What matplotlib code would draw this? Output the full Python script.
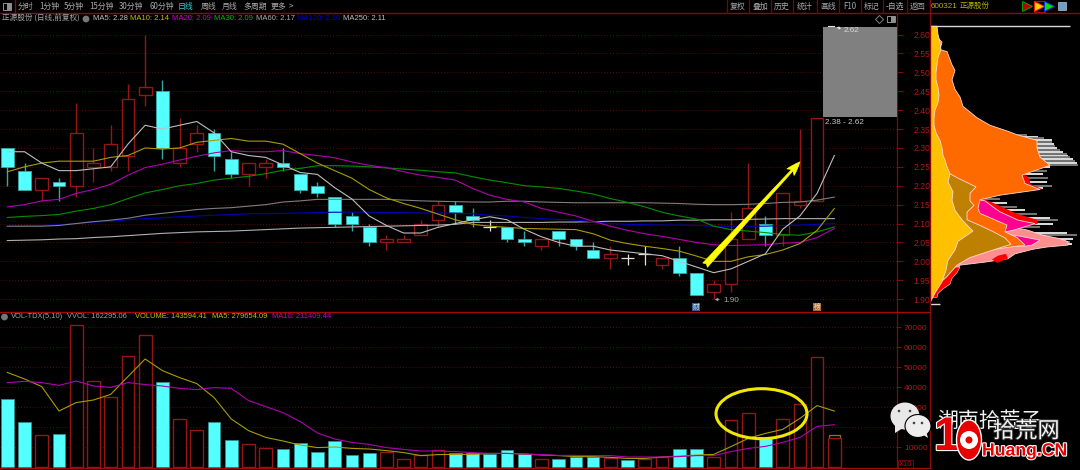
import matplotlib
matplotlib.use("Agg")
import matplotlib.pyplot as plt
import matplotlib.patheffects as pe
from matplotlib.patches import Ellipse, Rectangle, FancyArrowPatch, Polygon, Circle

plt.rcParams['font.family'] = ['Noto Sans CJK SC', 'DejaVu Sans']
LAT = 'Liberation Sans'

# ---------- data ----------
opens  = [2.30,2.24,2.19,2.21,2.20,2.25,2.25,2.28,2.44,2.45,2.26,2.31,2.34,2.27,2.23,2.25,2.26,2.23,2.20,2.17,2.12,2.09,2.05,2.05,2.07,2.11,2.15,2.12,2.09,2.09,2.06,2.04,2.08,2.06,2.03,2.01,2.01,2.02,1.99,2.01,1.97,1.92,1.94,2.06,2.10,2.07,2.15,2.16]
closes = [2.25,2.19,2.22,2.20,2.34,2.26,2.31,2.43,2.46,2.30,2.30,2.34,2.28,2.23,2.26,2.26,2.25,2.19,2.18,2.10,2.10,2.05,2.06,2.06,2.10,2.15,2.13,2.11,2.09,2.06,2.05,2.06,2.06,2.04,2.01,2.02,2.01,2.02,2.01,1.97,1.91,1.94,2.06,2.14,2.07,2.18,2.16,2.38]
highs  = [2.30,2.26,2.22,2.22,2.42,2.30,2.36,2.47,2.60,2.48,2.38,2.36,2.35,2.29,2.26,2.27,2.30,2.23,2.21,2.17,2.13,2.10,2.07,2.07,2.11,2.16,2.16,2.14,2.11,2.09,2.08,2.06,2.08,2.06,2.05,2.04,2.02,2.04,2.01,2.04,1.97,1.95,2.13,2.26,2.12,2.18,2.35,2.38]
lows   = [2.20,2.19,2.16,2.16,2.17,2.21,2.24,2.24,2.41,2.27,2.25,2.29,2.24,2.22,2.20,2.22,2.24,2.18,2.17,2.09,2.08,2.04,2.03,2.05,2.07,2.09,2.10,2.09,2.08,2.05,2.04,2.03,2.04,2.03,2.01,1.98,1.99,1.99,1.98,1.96,1.91,1.90,1.92,2.06,2.04,2.04,2.14,2.16]

ma5   = [2.29,2.29,2.26,2.24,2.24,2.245,2.25,2.31,2.36,2.35,2.36,2.37,2.34,2.29,2.28,2.275,2.255,2.235,2.23,2.195,2.165,2.12,2.095,2.075,2.075,2.09,2.10,2.11,2.118,2.11,2.085,2.065,2.05,2.04,2.04,2.03,2.025,2.02,2.015,2.00,1.985,1.97,1.98,2.00,2.02,2.085,2.12,2.18,2.28]
ma10  = [2.237,2.25,2.26,2.265,2.265,2.265,2.275,2.28,2.30,2.297,2.30,2.315,2.32,2.325,2.318,2.318,2.31,2.285,2.26,2.24,2.22,2.19,2.168,2.153,2.14,2.125,2.11,2.098,2.093,2.09,2.087,2.086,2.085,2.084,2.073,2.056,2.047,2.04,2.034,2.027,2.014,2.00,2.00,2.012,2.018,2.03,2.047,2.082,2.14]
ma20  = [2.144,2.15,2.16,2.164,2.18,2.19,2.204,2.228,2.248,2.257,2.268,2.278,2.287,2.293,2.29,2.29,2.293,2.285,2.28,2.274,2.263,2.254,2.248,2.237,2.228,2.222,2.215,2.193,2.175,2.164,2.157,2.14,2.13,2.12,2.106,2.093,2.082,2.073,2.066,2.058,2.05,2.044,2.042,2.043,2.044,2.048,2.05,2.063,2.087]
ma30  = [2.116,2.119,2.121,2.124,2.133,2.14,2.15,2.166,2.181,2.19,2.20,2.206,2.215,2.22,2.225,2.232,2.241,2.246,2.253,2.253,2.252,2.25,2.247,2.244,2.241,2.237,2.234,2.224,2.215,2.208,2.20,2.197,2.193,2.186,2.178,2.166,2.156,2.144,2.13,2.12,2.112,2.093,2.084,2.08,2.076,2.071,2.069,2.078,2.091]
ma60  = [2.093,2.093,2.093,2.095,2.10,2.105,2.109,2.114,2.122,2.127,2.132,2.137,2.14,2.142,2.146,2.15,2.157,2.16,2.164,2.164,2.164,2.164,2.164,2.162,2.16,2.159,2.158,2.157,2.157,2.159,2.159,2.157,2.156,2.155,2.155,2.155,2.155,2.155,2.154,2.153,2.151,2.15,2.15,2.151,2.153,2.156,2.157,2.162,2.17]
ma120 = [2.092,2.094,2.095,2.097,2.10,2.104,2.106,2.11,2.113,2.115,2.118,2.12,2.122,2.124,2.126,2.126,2.127,2.128,2.129,2.13,2.13,2.13,2.129,2.129,2.128,2.128,2.127,2.126,2.122,2.12,2.116,2.113,2.111,2.109,2.105,2.10,2.098,2.097,2.096,2.096,2.095,2.093,2.093,2.093,2.093,2.095,2.096,2.098,2.10]
ma250 = [2.055,2.056,2.057,2.059,2.06,2.063,2.065,2.068,2.071,2.074,2.076,2.078,2.079,2.08,2.082,2.084,2.086,2.088,2.089,2.09,2.091,2.092,2.093,2.094,2.095,2.096,2.098,2.103,2.103,2.103,2.103,2.103,2.104,2.104,2.105,2.106,2.106,2.107,2.107,2.109,2.109,2.11,2.11,2.111,2.112,2.113,2.113,2.113,2.113]

volume = [34000,22300,15800,16500,71000,43000,35000,55700,65800,42300,24200,18300,22300,13700,11300,9300,8800,12000,7500,13000,5800,6800,7500,3800,6000,8300,7200,6800,6300,8300,6300,3800,4000,5000,5200,4700,3300,3800,4800,8800,8800,4800,23300,26800,15200,24200,31500,55000,14359]
vol_up = [0,0,1,0,1,1,1,1,1,0,1,1,0,0,1,1,0,0,0,0,0,0,1,1,1,1,0,0,0,0,0,1,0,0,0,1,0,1,1,0,0,1,1,1,0,1,1,1,1]
vol_ma5 = [47300,44000,40200,28000,32200,33500,36300,45200,54000,48200,44700,41700,34700,24000,18200,14800,13000,11000,9700,10000,9300,9000,8200,7200,5700,6200,6300,6300,6800,6800,6500,6000,5700,5200,5200,4800,4300,4300,5000,5500,6000,6300,10200,14300,16800,18800,24300,30700,27965]
vol_ma10 = [42200,42800,42200,40800,43000,40500,39800,42200,41200,40500,39300,38700,39700,39300,33200,30200,27200,22700,17000,14000,12300,11300,9700,8800,8000,8000,7700,7200,6800,6800,6500,6200,5800,5800,5700,5700,5000,5000,5000,5200,5700,5700,7700,9300,10300,12300,14800,20300,21141]
vvol_last = 16230

price_ticks = [2.60,2.55,2.50,2.45,2.40,2.35,2.30,2.25,2.20,2.15,2.10,2.05,2.00,1.95,1.90]
vol_ticks = [10000,20000,30000,40000,50000,60000,70000]

# chip distribution: (price, chips)
chip_yellow = [(2.622,7),(2.60,8),(2.58,10),(2.56,11),(2.54,8),(2.52,7),(2.50,6),(2.48,6),(2.46,8),(2.44,9),(2.42,8),(2.40,5),(2.38,4),(2.36,4),(2.34,6),(2.32,10),(2.30,12),(2.28,13),(2.268,15),(2.25,17),(2.232,20),(2.21,18),(2.184,23),(2.162,22),(2.135,25),(2.11,32),(2.08,43),(2.053,28),(2.03,25),(2.003,18),(1.977,16),(1.946,12),(1.916,5),(1.89,0)]
chip_brown = [(2.232,20),(2.22,28),(2.197,46),(2.18,40),(2.16,40),(2.148,44),(2.13,37),(2.11,37),(2.095,50),(2.08,62),(2.062,75),(2.045,81),(2.03,63),(2.01,40),(1.99,27),(1.975,22),(1.96,17),(1.95,13)]
chip_orange = [(2.59,8),(2.58,12),(2.56,10),(2.555,17),(2.52,22),(2.505,25),(2.48,22),(2.455,25),(2.435,30),(2.41,33),(2.38,47),(2.36,60),(2.345,77),(2.335,87),(2.32,107),(2.30,107),(2.276,110),(2.254,120),(2.228,92),(2.206,95),(2.19,110),(2.175,70),(2.163,50),(2.14,48),(2.127,50),(2.096,77),(2.078,75),(2.063,87),(2.043,95),(2.034,70),(2.025,50),(2.00,27)]
chip_magenta_a = [(2.162,50),(2.16,55),(2.144,63),(2.131,70),(2.109,88),(2.10,105),(2.09,93),(2.082,83),(2.078,75)]
chip_magenta_b = [(2.069,85),(2.063,97),(2.056,110),(2.043,102),(2.04,95)]
chip_pink = [(2.09,83),(2.083,97),(2.069,113),(2.06,130),(2.052,138),(2.043,138),(2.038,117),(2.032,103),(2.02,85),(2.007,78),(1.998,55),(1.99,30),(1.982,28)]
chip_red_a = [(2.165,53),(2.155,63),(2.14,75),(2.125,88),(2.11,107),(2.10,108),(2.09,95)]
chip_red_b = [(2.235,95),(2.228,96),(2.215,100),(2.205,100),(2.19,113)]
chip_red_c = [(1.985,30),(1.97,27),(1.955,22),(1.94,20),(1.925,12),(1.915,8),(1.905,7)]
chip_red_blob = [(2.02,76),(2.008,78),(1.996,67),(2.005,62),(2.015,68)]
spike_price = [2.335,2.33,2.325,2.32,2.315,2.31,2.305,2.30,2.295,2.29,2.285,2.28,2.275,2.27,2.265,2.26,2.255,2.25,2.24,2.23,2.22,2.21,2.20,2.195,2.165,2.155,2.145,2.135,2.125,2.115,2.11,2.10,2.09,2.075,2.07,2.06,2.05,2.045]
spike_len = [97,108,114,122,122,124,125,127,130,133,137,138,140,143,145,147,148,120,117,113,118,117,122,113,70,77,87,95,107,120,128,123,110,137,147,143,140,142]

# ---------- layout ----------
W, H = 1080, 470
RED = '#961616'
DIM = '#7A0C0C'
GRID = '#5A0A0A'
CY = '#54FFFF'
fig = plt.figure(figsize=(10.8, 4.7), dpi=100, facecolor='black')

def rect(x0, y0, x1, y1):
    return [x0 / W, 1 - y1 / H, (x1 - x0) / W, (y1 - y0) / H]

ax = fig.add_axes(rect(0, 13, 897, 312), facecolor='black')
vx = fig.add_axes(rect(0, 312, 897, 468), facecolor='black')
cx = fig.add_axes(rect(930, 13, 1080, 312), facecolor='black')
ov = fig.add_axes([0, 0, 1, 1], facecolor='none', zorder=20)
ov.set_xlim(0, W); ov.set_ylim(H, 0); ov.axis('off')

X0, DX = 7.3, 17.23
xlim = (-X0 / DX, (897 - X0) / DX)
ylim = (1.866, 2.657)

# ---------- price panel ----------
ax.set_xlim(*xlim); ax.set_ylim(*ylim)
ax.set_xticks([])
ax.set_yticks(price_ticks)
ax.set_yticklabels([f'{t:.2f}' for t in price_ticks], family=LAT)
ax.yaxis.tick_right()
ax.tick_params(axis='y', colors=DIM, labelcolor='#B01818', labelsize=6.2, length=4, width=0.8, pad=8)
ax.hlines(price_ticks, xlim[0], xlim[1], colors=GRID, linestyles=(0, (1, 2)), linewidth=0.7, zorder=0)
for s in ('top', 'left', 'bottom'):
    ax.spines[s].set_visible(False)
ax.spines['right'].set_color(DIM); ax.spines['right'].set_linewidth(0.9)

for i, (o, h, l, c) in enumerate(zip(opens, highs, lows, closes)):
    if c > o:
        ax.vlines(i, l, h, colors=RED, linewidth=1, zorder=3)
        ax.bar(i, c - o, bottom=o, width=0.74, facecolor='black', edgecolor=RED, linewidth=1, zorder=4)
    elif c < o:
        ax.vlines(i, l, h, colors='#3AA5A5', linewidth=1, zorder=3)
        ax.bar(i, o - c, bottom=c, width=0.74, facecolor=CY, edgecolor='#3AA5A5', linewidth=0.6, zorder=4)
    else:
        ax.vlines(i, l, h, colors='#E0E0E0', linewidth=0.9, zorder=3)
        ax.hlines(o, i - 0.37, i + 0.37, colors='#E0E0E0', linewidth=0.9, zorder=3)

xs = range(len(ma5))
for vals, col in [(ma250, '#B0B0B0'), (ma120, '#0000B8'), (ma60, '#7E7E7E'), (ma30, '#009000'),
                  (ma20, '#B000B0'), (ma10, '#A89C00'), (ma5, '#BEBEBE')]:
    ax.plot(xs, vals, color=col, linewidth=0.8, zorder=6, solid_joinstyle='round')

ax.add_patch(FancyArrowPatch((40.5, 1.99), (46.0, 2.263),
                             arrowstyle='fancy,head_length=10,head_width=7,tail_width=4.5',
                             mutation_scale=1.0, facecolor='#FFFF00', edgecolor='#FFFF00',
                             linewidth=0.5, zorder=8, shrinkA=0, shrinkB=0))

# ---------- volume panel ----------
vx.set_xlim(*xlim); vx.set_ylim(-500, 77500)
vx.set_xticks([])
vx.set_yticks(vol_ticks)
vx.set_yticklabels([str(t) for t in vol_ticks], family=LAT)
vx.yaxis.tick_right()
vx.tick_params(axis='y', colors=DIM, labelcolor='#B01818', labelsize=6.0, length=3, width=0.8, pad=2)
vx.hlines(vol_ticks, xlim[0], xlim[1], colors=GRID, linestyles=(0, (1, 2)), linewidth=0.7, zorder=0)
for s in ('top', 'left', 'bottom'):
    vx.spines[s].set_visible(False)
vx.spines['right'].set_color(DIM); vx.spines['right'].set_linewidth(0.9)

vx.bar(len(volume) - 1, vvol_last, width=0.66, facecolor='black', edgecolor='#8A7A00', linewidth=0.9, zorder=2)
for i, (v, up) in enumerate(zip(volume, vol_up)):
    if up:
        vx.bar(i, v, width=0.74, facecolor='black', edgecolor=RED, linewidth=1, zorder=3)
    else:
        vx.bar(i, v, width=0.74, facecolor=CY, edgecolor='#2F8F8F', linewidth=0.6, zorder=3)
vx.plot(range(len(vol_ma5)), vol_ma5, color='#A89C00', linewidth=0.8, zorder=5)
vx.plot(range(len(vol_ma10)), vol_ma10, color='#B000B0', linewidth=0.8, zorder=5)

# ---------- chip panel ----------
cx.set_xlim(0, 150); cx.set_ylim(*ylim); cx.axis('off')
spike_cols = ['#F0F0F0' if i % 2 else '#808080' for i in range(len(spike_price))]
cx.hlines(spike_price, 0, spike_len, colors=spike_cols, linewidth=1.3, zorder=1)
cx.hlines(2.622, 0, 140, colors='#D8D8D8', linewidth=1, zorder=1)
cx.hlines(1.886, 0, 10, colors='#D8D8D8', linewidth=1, zorder=1)

def chip(points, color, z, edge='#FFD8D8', lw=0.6):
    pts = [(0, points[0][0])] + [(c, p) for p, c in points] + [(0, points[-1][0])]
    cx.add_patch(Polygon(pts, closed=True, facecolor=color, edgecolor=edge, linewidth=lw, zorder=z))

chip(chip_pink, '#FF8F8F', 2)
cx.add_patch(Polygon([(c, p) for p, c in chip_red_blob], closed=True, facecolor='#FF0000', edgecolor='none', zorder=3))
chip(chip_red_a, '#FF0000', 3, edge='none')
chip(chip_red_b, '#FF0000', 3, edge='none')
chip(chip_red_c, '#FF0000', 3, edge='#FFD8D8', lw=0.4)
chip(chip_magenta_a, '#FF0090', 4)
chip(chip_magenta_b, '#FF0090', 4)
chip(chip_orange, '#FF6A00', 5)
chip(chip_brown, '#BE8000', 6)
chip(chip_yellow, '#FFC000', 7)

# ---------- annotations in pixel space ----------
ov.add_patch(Rectangle((823.3, 27), 73.4, 90, facecolor='#808080', edgecolor='none', zorder=1))
ov.text(825, 123, '2.38 - 2.62', color='#C8C8C8', fontsize=5.9, va='center', family=LAT)
ov.text(844, 30, '2.62', color='#D8D8D8', fontsize=5.9, va='center', ha='left', family=LAT)
ov.annotate('', xy=(834, 26), xytext=(843, 29.5), arrowprops=dict(arrowstyle='-|>', color='#E0E0E0', lw=0.6, mutation_scale=4))
ov.plot([828, 834], [26, 26], color='#E0E0E0', lw=0.8)
ov.text(723, 300, '1.90', color='#A8A8A8', fontsize=5.9, va='center', family=LAT)
ov.annotate('', xy=(712, 299.5), xytext=(722, 299.5), arrowprops=dict(arrowstyle='-|>', color='#A8A8A8', lw=0.6, mutation_scale=4))

ov.add_patch(Ellipse((761.5, 413.7), 91, 50, facecolor='none', edgecolor='#F0E800', linewidth=2.2, zorder=3))

# frame lines
ov.plot([0, 1080], [13, 13], color='#8A0A0A', lw=1)
ov.plot([0, 930], [312, 312], color='#A00A0A', lw=1)
ov.plot([0, 930], [468, 468], color='#A00A0A', lw=1)
ov.plot([930, 930], [0, 468], color='#8A0A0A', lw=1)
ov.plot([15, 15], [0, 13], color='#8A0A0A', lw=1)
for x in (727, 749, 771, 793, 817, 839, 861, 883, 907):
    ov.plot([x, x], [0, 13], color='#6A0A0A', lw=0.9)

# toolbar
TXT = '#A8A8A8'
ov.add_patch(Rectangle((3, 3), 8, 7, facecolor='none', edgecolor='#909090', lw=0.7))
ov.add_patch(Rectangle((7, 3), 4, 7, facecolor='#909090', edgecolor='none'))
for x, s, col in [(18, '分时', TXT), (39, '1分钟', TXT), (64, '5分钟', TXT), (89, '15分钟', TXT), (119, '30分钟', TXT),
                  (149, '60分钟', TXT), (178, '日线', '#3CCCCC'), (201, '周线', TXT), (222, '月线', TXT), (243, '多周期', TXT),
                  (271, '更多', TXT), (289, '>', TXT)]:
    ov.text(x, 6.5, s, color=col, fontsize=5.7, va='center', ha='left')
for x, s in [(738, '复权'), (760, '叠加'), (782, '历史'), (805, '统计'), (828, '画线'), (850, 'F10'), (872, '标记'), (895, '-自选'), (918, '返回')]:
    ov.text(x, 6.5, s, color=TXT, fontsize=5.7, va='center', ha='center')

# header lines
ov.text(2, 19, '正源股份 (日线,前复权)', color=TXT, fontsize=5.5, va='center')
ov.add_patch(Circle((86, 19), 3.4, facecolor='#777777', edgecolor='none'))
for x, s, col in [(93, 'MA5: 2.28', '#C0C0C0'), (130, 'MA10: 2.14', '#C8C000'), (172, 'MA20: 2.09', '#D000D0'),
                  (214, 'MA30: 2.09', '#00B800'), (256, 'MA60: 2.17', '#B0B0B0'), (297, 'MA120: 2.10', '#0000D0'),
                  (343, 'MA250: 2.11', '#C0C0C0')]:
    ov.text(x, 19, s, color=col, fontsize=5.5, va='center', family=LAT)
ov.add_patch(Circle((4.5, 317), 3.4, facecolor='#777777', edgecolor='none'))
for x, s, col in [(11, 'VOL-TDX(5,10)', '#A0A0A0'), (67, 'VVOL: 162295.06', '#A0A0A0'), (135, 'VOLUME: 143594.41', '#C8C000'),
                  (212, 'MA5: 279654.09', '#C8C000'), (272, 'MA10: 211409.44', '#D000D0')]:
    ov.text(x, 317, s, color=col, fontsize=5.4, va='center', family=LAT)

# right header
ov.text(931, 6, '600321', color='#B8B000', fontsize=5.8, va='center', family=LAT)
ov.text(960, 6, '正源股份', color='#B8B000', fontsize=5.4, va='center')
for x, c1, c2 in [(1027, '#C00000', '#00A000'), (1039, '#FFD000', '#FF2000'), (1049, '#00E000', '#0030FF')]:
    ov.plot([x], [6], marker='>', markersize=6.5, color=c1, markeredgecolor=c2, markeredgewidth=0.7)
ov.add_patch(Rectangle((1034, 1), 11, 11, facecolor='none', edgecolor='#A01010', lw=0.9))
ov.add_patch(Rectangle((1058, 2), 8, 8, facecolor='#6AA0D0', edgecolor='#C0C0C0', lw=0.5))

# small icons on the price panel
ov.add_patch(Rectangle((692, 303), 8, 8, facecolor='#2F5F95', edgecolor='none'))
ov.text(696, 307, '财', color='#D8E4F0', fontsize=4.8, ha='center', va='center')
ov.add_patch(Rectangle((813, 303), 8, 8, facecolor='#A86A30', edgecolor='none'))
ov.text(817, 307, '榜', color='#F0E0D0', fontsize=4.8, ha='center', va='center')
ov.plot([879], [19], marker='D', markersize=4, markerfacecolor='none', markeredgecolor='#808080', markeredgewidth=0.7)
ov.add_patch(Rectangle((887, 16), 8, 6, facecolor='none', edgecolor='#909090', lw=0.7))
ov.add_patch(Rectangle((891, 16), 4, 6, facecolor='#909090', edgecolor='none'))

# X10 box
ov.add_patch(Rectangle((898, 460), 15, 8, facecolor='none', edgecolor='#6A0A0A', lw=0.7))
ov.text(905.5, 464, 'X10', color='#A01818', fontsize=5.4, ha='center', va='center', family=LAT)

# watermark
ov.add_patch(Ellipse((905, 416), 29, 27, facecolor='#E8E8E8', edgecolor='none', zorder=4))
ov.add_patch(Polygon([(895, 425), (895, 433), (903, 428)], facecolor='#E8E8E8', edgecolor='none', zorder=4))
ov.add_patch(Ellipse((918, 426), 26, 23, facecolor='#EDEDED', edgecolor='black', lw=0.8, zorder=5))
ov.add_patch(Polygon([(922, 434), (928, 438), (926, 431)], facecolor='#EDEDED', edgecolor='none', zorder=5))
for x, y, z in [(899, 411, 5), (910, 411, 5), (914, 423, 6), (922, 423, 6)]:
    ov.add_patch(Circle((x, y), 1.3, facecolor='#444444', edgecolor='none', zorder=z))
stroke = [pe.withStroke(linewidth=1.6, foreground='white')]
ov.text(937, 421, '湖南拾荒子', color='#F0F0F0', fontsize=15, va='center', ha='left', zorder=6)
ov.text(993, 431, '拾荒网', color='#F4F4F4', fontsize=16, va='center', ha='left', zorder=7,
        path_effects=[pe.withStroke(linewidth=1.5, foreground='#303030')])
ov.text(947, 438, '1', color='#E80000', fontsize=34, fontweight='bold', va='center', ha='center', zorder=8,
        family=LAT, path_effects=stroke)
ov.add_patch(Ellipse((969, 440), 25, 40, facecolor='#E80000', edgecolor='white', lw=1, zorder=8))
ov.add_patch(Circle((969, 440), 9, facecolor='white', edgecolor='none', zorder=9))
ov.add_patch(Circle((969, 440), 3.5, facecolor='#E80000', edgecolor='none', zorder=10))
ov.text(982, 451, 'Huang.CN', color='#E80000', fontsize=12.7, fontweight='bold', va='center', ha='left', zorder=8,
        family=LAT, path_effects=stroke)

fig.savefig('out.png', dpi=100, facecolor='black')
